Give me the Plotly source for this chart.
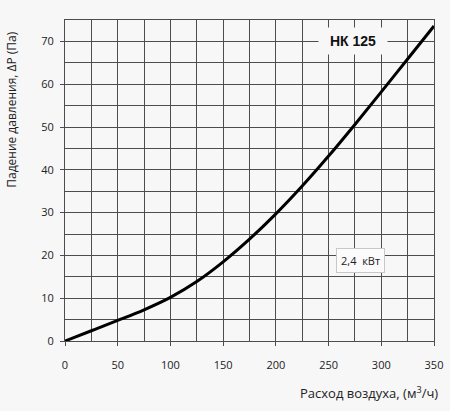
"""Pressure drop curve for the HK 125 duct heater."""

import plotly.graph_objects as go

# Air flow (m3/h) and pressure drop (Pa)
airflow = [0, 25, 50, 75, 100, 125, 150, 175, 200, 225, 250, 275, 300, 325, 350]
pressure_drop = [0, 2.4, 4.8, 7.3, 10.2, 13.9, 18.5, 23.8, 29.7, 36.2, 43.2, 50.6, 58.2, 65.9, 73.6]

model_label = "НК 125"
power_label = "2,4  кВт"
x_title = "Расход воздуха, (м<sup>3</sup>/ч)"
y_title = "Падение давления, ΔP (Па)"

BG = "#f7f7f7"
GRID = "#4d4d4d"
FONT = "Open Sans, DejaVu Sans, sans-serif"

fig = go.Figure()

fig.add_trace(
    go.Scatter(
        x=airflow,
        y=pressure_drop,
        mode="lines",
        line=dict(color="#000000", width=3, shape="spline", smoothing=1.0),
        hoverinfo="skip",
        showlegend=False,
    )
)

axis_common = dict(
    showgrid=True,
    gridcolor=GRID,
    gridwidth=1,
    showline=True,
    linecolor=GRID,
    linewidth=1,
    mirror=True,
    zeroline=False,
    automargin=False,
    ticks="outside",
    tickcolor=GRID,
    tickfont=dict(family=FONT, size=11, color="#222222"),
)

fig.update_xaxes(
    range=[0, 350],
    dtick=50,
    ticklen=4,
    ticklabelstandoff=10,
    minor=dict(dtick=25, showgrid=True, gridcolor=GRID, gridwidth=1),
    **axis_common,
)
fig.update_yaxes(
    range=[0, 75],
    dtick=10,
    ticklen=4,
    ticklabelstandoff=4,
    minor=dict(dtick=5, showgrid=True, gridcolor=GRID, gridwidth=1),
    **axis_common,
)

# Model name, boxed in background colour so it breaks the grid
fig.add_annotation(
    x=273, y=70, xref="x", yref="y",
    text=f"<b>{model_label}</b>",
    showarrow=False,
    font=dict(family="Liberation Sans, Arial, sans-serif", size=14, color="#111111"),
    bgcolor=BG,
    borderpad=5,
    width=58,
)

# Heater power box
fig.add_annotation(
    x=280, y=18.9, xref="x", yref="y",
    text=power_label,
    showarrow=False,
    font=dict(family=FONT, size=11, color="#222222"),
    bgcolor="#fbfbfb",
    bordercolor="#c8c8c8",
    borderwidth=1,
    borderpad=4,
)

# Axis titles placed like the original (x title right-aligned, y title near the top)
fig.add_annotation(
    x=1.016, y=-0.159, xref="paper", yref="paper",
    xanchor="right", yanchor="middle",
    text=x_title,
    showarrow=False,
    font=dict(family=FONT, size=13, color="#222222"),
)
fig.add_annotation(
    x=-0.144, y=0.72, xref="paper", yref="paper",
    xanchor="center", yanchor="middle",
    text=y_title,
    textangle=-90,
    showarrow=False,
    font=dict(family=FONT, size=12, color="#222222"),
)

fig.update_layout(
    width=450,
    height=411,
    paper_bgcolor=BG,
    plot_bgcolor=BG,
    margin=dict(l=65, r=16, t=20, b=70),
    showlegend=False,
)

# drop the default page margin so the figure sits at the window corner
fig.write_html(
    "out.html",
    config={"displayModeBar": False},
    post_script="document.body.style.margin='0';document.body.style.background='#f7f7f7';",
)
